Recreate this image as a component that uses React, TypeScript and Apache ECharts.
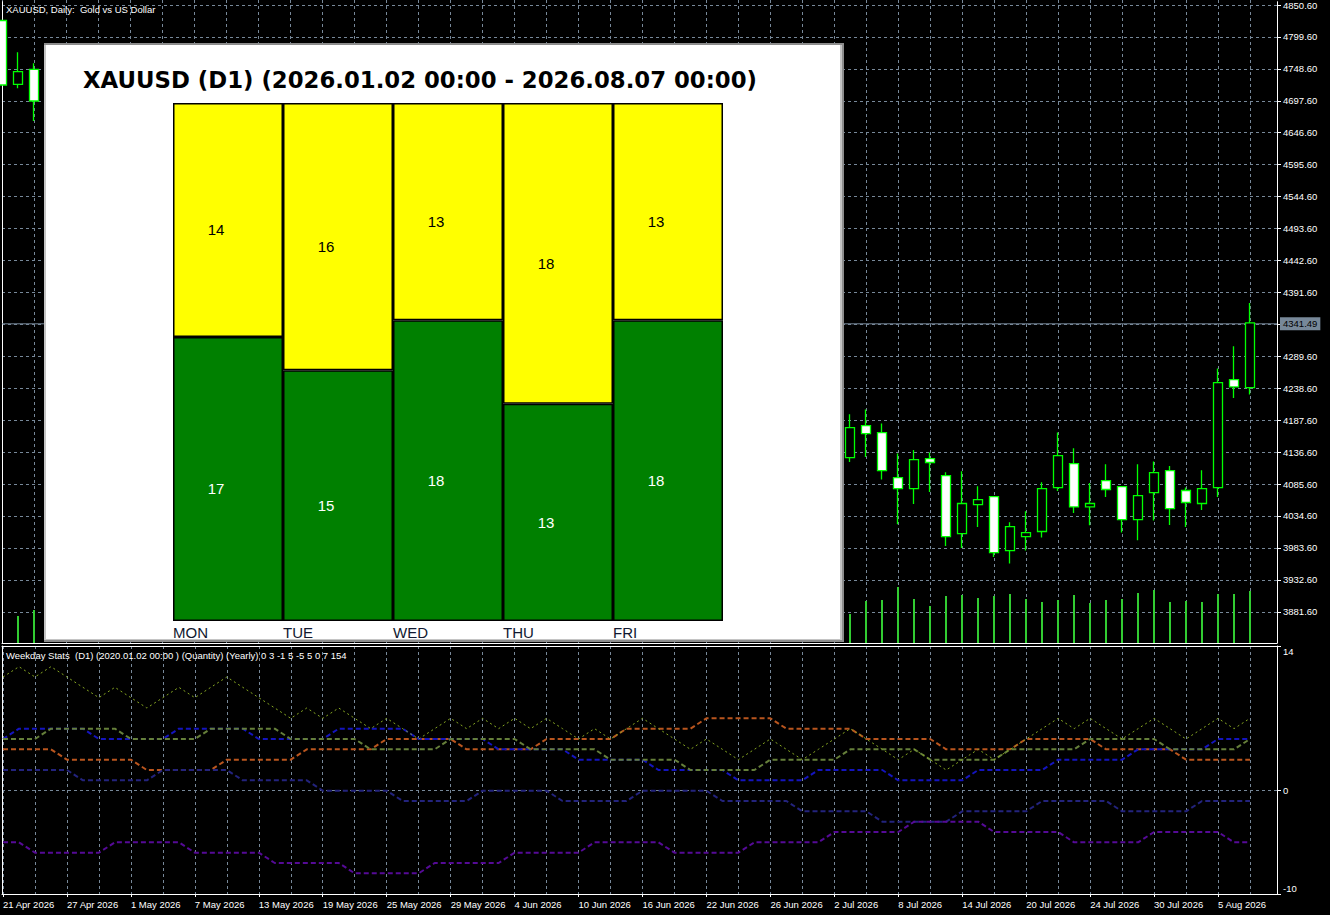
import React, { useEffect, useRef } from 'react';
import * as echarts from 'echarts';

const FONT = "'Liberation Sans', Arial, sans-serif";
const GRID_COLOR = '#778899';
const WHITE = '#ffffff';

// ---------- categories ----------
const dates = [
  '21 Apr 2026', '22 Apr 2026', '23 Apr 2026', '24 Apr 2026',
  '27 Apr 2026', '28 Apr 2026', '29 Apr 2026', '30 Apr 2026', '1 May 2026',
  '4 May 2026', '5 May 2026', '6 May 2026', '7 May 2026', '8 May 2026',
  '11 May 2026', '12 May 2026', '13 May 2026', '14 May 2026', '15 May 2026',
  '18 May 2026', '19 May 2026', '20 May 2026', '21 May 2026', '22 May 2026',
  '25 May 2026', '26 May 2026', '27 May 2026', '28 May 2026', '29 May 2026',
  '1 Jun 2026', '2 Jun 2026', '3 Jun 2026', '4 Jun 2026', '5 Jun 2026',
  '8 Jun 2026', '9 Jun 2026', '10 Jun 2026', '11 Jun 2026', '12 Jun 2026',
  '15 Jun 2026', '16 Jun 2026', '17 Jun 2026', '18 Jun 2026', '19 Jun 2026',
  '22 Jun 2026', '23 Jun 2026', '24 Jun 2026', '25 Jun 2026', '26 Jun 2026',
  '29 Jun 2026', '30 Jun 2026', '1 Jul 2026', '2 Jul 2026', '3 Jul 2026',
  '6 Jul 2026', '7 Jul 2026', '8 Jul 2026', '9 Jul 2026', '10 Jul 2026',
  '13 Jul 2026', '14 Jul 2026', '15 Jul 2026', '16 Jul 2026', '17 Jul 2026',
  '20 Jul 2026', '21 Jul 2026', '22 Jul 2026', '23 Jul 2026', '24 Jul 2026',
  '27 Jul 2026', '28 Jul 2026', '29 Jul 2026', '30 Jul 2026', '31 Jul 2026',
  '3 Aug 2026', '4 Aug 2026', '5 Aug 2026', '6 Aug 2026', '7 Aug 2026',
];

// ---------- price candles [open, close, low, high] (visible ones only) ----------
const candlesLeft = [
  [4823.2, 4720.5, 4720.5, 4823.2],
  [4721.6, 4741.7, 4715.2, 4772.6],
  [4745.5, 4695.0, 4663.0, 4755.0],
];
const RIGHT_START = 53;
const candlesRight = [
  [4127.1, 4174.9, 4120.1, 4196.1],
  [4178.1, 4165.3, 4128.1, 4203.6],
  [4166.9, 4106.4, 4092.1, 4181.3],
  [4095.3, 4077.7, 4020.9, 4133.5],
  [4077.7, 4123.9, 4053.2, 4139.0],
  [4125.5, 4119.2, 4072.3, 4135.1],
  [4098.4, 4001.3, 3986.3, 4103.7],
  [4006.1, 4053.9, 3983.1, 4105.3],
  [4052.3, 4060.2, 4016.5, 4081.4],
  [4065.0, 3975.8, 3968.8, 4066.0],
  [3979.0, 4017.2, 3958.4, 4024.1],
  [4001.3, 4007.6, 3979.0, 4041.7],
  [4009.3, 4077.7, 3999.7, 4087.8],
  [4079.3, 4130.3, 4073.9, 4166.9],
  [4117.6, 4048.5, 4038.9, 4141.9],
  [4048.5, 4053.9, 4019.3, 4086.7],
  [4090.5, 4076.2, 4064.4, 4116.4],
  [4080.9, 4028.4, 4007.7, 4082.0],
  [4028.4, 4066.6, 3995.4, 4116.4],
  [4071.4, 4103.2, 4026.8, 4120.7],
  [4106.4, 4045.9, 4019.8, 4113.7],
  [4074.6, 4055.5, 4016.5, 4079.3],
  [4053.9, 4077.7, 4043.5, 4106.9],
  [4079.3, 4246.6, 4064.4, 4268.9],
  [4251.3, 4239.6, 4222.0, 4304.4],
  [4238.6, 4341.49, 4227.5, 4373.4],
];
const volumesLeft = [null, 27, 33];
const volumesRight = [29, 42, 43, 56, 44, 37, 47, 48, 45, 47, 49, 44, 41, 43, 48, 40, 43, 44, 50, 53, 41, 42, 41, 49, 49, 52];
const BID = 4341.49;

// ---------- price axis ----------
const PRICE_MIN = 3831.75;
const PRICE_MAX = 4855.86;
const VOL_MAX = 643;
const priceTicks = [3881.6, 3932.6, 3983.6, 4034.6, 4085.6, 4136.6, 4187.6, 4238.6, 4289.6, 4340.6,
  4391.6, 4442.6, 4493.6, 4544.6, 4595.6, 4646.6, 4697.6, 4748.6, 4799.6, 4850.6];
const priceLabels = [3881.6, 3932.6, 3983.6, 4034.6, 4085.6, 4136.6, 4187.6, 4238.6, 4289.6,
  4391.6, 4442.6, 4493.6, 4544.6, 4595.6, 4646.6, 4697.6, 4748.6, 4799.6, 4850.6];

// ---------- weekday stats indicator (cumulative yearly counts) ----------
const monLine = [4, 4, 4, 4, 3, 3, 3, 3, 3, 2, 2, 2, 2, 2, 3, 3, 3, 3, 3, 4, 4, 4, 4, 4, 5, 5, 5, 5, 5, 4, 4, 4, 4, 4,
  5, 5, 5, 5, 5, 6, 6, 6, 6, 6, 7, 7, 7, 7, 7, 6, 6, 6, 6, 6, 5, 5, 5, 5, 5, 4, 4, 4, 4, 4, 5, 5, 5, 5, 5,
  4, 4, 4, 4, 4, 3, 3, 3, 3, 3];
const tueLine = [2, 2, 2, 2, 2, 1, 1, 1, 1, 1, 2, 2, 2, 2, 2, 1, 1, 1, 1, 1, 0, 0, 0, 0, 0, -1, -1, -1, -1, -1,
  0, 0, 0, 0, 0, -1, -1, -1, -1, -1, 0, 0, 0, 0, 0, -1, -1, -1, -1, -1, -2, -2, -2, -2, -2, -3, -3, -3, -3, -3,
  -2, -2, -2, -2, -2, -1, -1, -1, -1, -1, -2, -2, -2, -2, -2, -1, -1, -1, -1];
const wedLine = [5, 6, 6, 6, 6, 6, 5, 5, 5, 5, 5, 6, 6, 6, 6, 6, 5, 5, 5, 5, 5, 6, 6, 6, 6, 6, 5, 5, 5, 5, 5,
  4, 4, 4, 4, 4, 3, 3, 3, 3, 3, 2, 2, 2, 2, 2, 1, 1, 1, 1, 1, 2, 2, 2, 2, 2, 1, 1, 1, 1, 1, 2, 2, 2, 2, 2,
  3, 3, 3, 3, 3, 4, 4, 4, 4, 4, 5, 5, 5];
const thuLine = [-5, -5, -6, -6, -6, -6, -6, -5, -5, -5, -5, -5, -6, -6, -6, -6, -6, -7, -7, -7, -7, -7,
  -8, -8, -8, -8, -8, -7, -7, -7, -7, -7, -6, -6, -6, -6, -6, -5, -5, -5, -5, -5, -6, -6, -6, -6, -6,
  -5, -5, -5, -5, -5, -4, -4, -4, -4, -4, -3, -3, -3, -3, -3, -4, -4, -4, -4, -4, -5, -5, -5, -5, -5,
  -4, -4, -4, -4, -4, -5, -5];
const friLine = [5, 5, 5, 6, 6, 6, 6, 6, 5, 5, 5, 5, 5, 6, 6, 6, 6, 6, 5, 5, 5, 5, 5, 4, 4, 4, 4, 4, 5, 5, 5, 5, 5,
  4, 4, 4, 4, 4, 3, 3, 3, 3, 3, 2, 2, 2, 2, 2, 3, 3, 3, 3, 3, 4, 4, 4, 4, 4, 3, 3, 3, 3, 3, 4, 4, 4, 4, 4,
  5, 5, 5, 5, 5, 4, 4, 4, 4, 4, 5];
const totalLine = [11, 12, 11, 12, 11, 10, 9, 10, 9, 8, 9, 10, 9, 10, 11, 10, 9, 8, 7, 8, 7, 8, 7, 6, 7, 6, 5, 6, 7,
  6, 7, 6, 7, 6, 7, 6, 5, 6, 5, 6, 7, 6, 5, 4, 5, 4, 3, 4, 5, 4, 3, 4, 5, 6, 5, 4, 3, 4, 3, 2, 3, 4, 3, 4,
  5, 6, 7, 6, 7, 6, 5, 6, 7, 6, 5, 6, 7, 6, 7];
const indicatorTicks = [14, 0, -10];

// ---------- overlay panel ----------
const weekdays = ['MON', 'TUE', 'WED', 'THU', 'FRI'];
const upCounts = [17, 15, 18, 13, 18];
const downCounts = [14, 16, 13, 18, 13];

const CHART_TITLE = 'XAUUSD, Daily:  Gold vs US Dollar';
const PANEL_TITLE = 'XAUUSD (D1) (2026.01.02 00:00 - 2026.08.07 00:00)';
const INDICATOR_TITLE = 'Weekday Stats  (D1) (2020.01.02 00:00 ) (Quantity) (Yearly) 0 3 -1 5 -5 5 0 7 154';

function buildOption(): any {
  const candleData = dates.map((_, i) => {
    if (i < candlesLeft.length) return candlesLeft[i];
    if (i >= RIGHT_START) return candlesRight[i - RIGHT_START];
    return '-';
  });
  const volumeData = dates.map((_, i) => {
    if (i < volumesLeft.length) return volumesLeft[i] == null ? '-' : volumesLeft[i];
    if (i >= RIGHT_START) return volumesRight[i - RIGHT_START];
    return '-';
  });

  const dashed = { color: GRID_COLOR, width: 1, type: [3, 3] as any };
  const hiddenAxisParts = {
    axisLabel: { show: false },
    axisTick: { show: false },
    splitLine: { show: false },
  };
  const smallText = { color: WHITE, fontSize: 9.5, fontFamily: FONT };

  const indLine = (name: string, data: number[], color: string, width: number, type: any) => ({
    type: 'line',
    name,
    xAxisIndex: 2,
    yAxisIndex: 4,
    data,
    symbol: 'none',
    silent: true,
    z: 3,
    lineStyle: { color, width, type },
  });

  return {
    animation: false,
    backgroundColor: '#000000',
    grid: [
      { left: 2, top: 0, width: 1248, height: 643 },
      { left: 2, top: 0, width: 1275, height: 643 },
      { left: 2, top: 646, width: 1248, height: 248 },
      { left: 2, top: 646, width: 1275, height: 248 },
      { left: 173, top: 103, width: 550, height: 518 },
    ],
    xAxis: [
      {
        gridIndex: 0, type: 'category', data: dates, boundaryGap: false,
        axisLine: { show: false, onZero: false }, axisTick: { show: false }, axisLabel: { show: false },
        splitLine: { show: true, interval: 1, lineStyle: dashed },
      },
      {
        gridIndex: 1, type: 'value', min: 0, max: 1, position: 'bottom',
        axisLine: { show: true, onZero: false, lineStyle: { color: WHITE, width: 1 } },
        ...hiddenAxisParts,
      },
      {
        gridIndex: 2, type: 'category', data: dates, boundaryGap: false, position: 'bottom',
        axisLine: { show: false, onZero: false },
        axisTick: { show: true, interval: 3, length: 3, lineStyle: { color: WHITE } },
        axisLabel: { show: true, interval: 3, align: 'left', margin: 5, ...smallText },
        splitLine: { show: true, interval: 1, lineStyle: dashed },
      },
      {
        gridIndex: 3, type: 'value', min: 0, max: 1, position: 'bottom',
        axisLine: { show: true, onZero: false, lineStyle: { color: WHITE, width: 1 } },
        ...hiddenAxisParts,
      },
      {
        gridIndex: 3, type: 'value', min: 0, max: 1, position: 'top',
        axisLine: { show: true, onZero: false, lineStyle: { color: WHITE, width: 1 } },
        ...hiddenAxisParts,
      },
      {
        gridIndex: 4, type: 'category', data: weekdays, z: 12,
        axisLine: { show: false }, axisTick: { show: false },
        axisLabel: {
          show: true, margin: 4,
          formatter: (v: string) => `{a|${v}}`,
          rich: { a: { width: 110, align: 'left', fontSize: 15, color: '#101830', fontFamily: FONT } },
        },
        splitLine: { show: false },
      },
    ],
    yAxis: [
      { gridIndex: 0, type: 'value', min: PRICE_MIN, max: PRICE_MAX, show: false },
      { gridIndex: 0, type: 'value', min: 0, max: VOL_MAX, show: false },
      {
        gridIndex: 1, type: 'value', min: PRICE_MIN, max: PRICE_MAX, position: 'right',
        axisLine: { show: true, onZero: false, lineStyle: { color: WHITE } },
        axisTick: { show: true, length: 4, customValues: priceTicks, lineStyle: { color: WHITE } },
        axisLabel: {
          show: true, margin: 6, customValues: priceLabels,
          formatter: (v: number) => v.toFixed(2), ...smallText,
        },
        splitLine: { show: true, lineStyle: dashed },
      },
      {
        gridIndex: 1, type: 'value', min: 0, max: 1, position: 'left',
        axisLine: { show: true, onZero: false, lineStyle: { color: WHITE } },
        ...hiddenAxisParts,
      },
      { gridIndex: 2, type: 'value', min: -10, max: 14, show: false },
      {
        gridIndex: 3, type: 'value', min: -10, max: 14, position: 'right',
        axisLine: { show: true, onZero: false, lineStyle: { color: WHITE } },
        axisTick: { show: true, length: 4, customValues: indicatorTicks, lineStyle: { color: WHITE } },
        axisLabel: {
          show: true, margin: 6, customValues: indicatorTicks,
          formatter: (v: number) => (v === 14 ? `{t|${v}}` : v === -10 ? `{b|${v}}` : `{m|${v}}`),
          rich: {
            t: { ...smallText, padding: [10, 0, 0, 0] },
            b: { ...smallText, padding: [0, 0, 12, 0] },
            m: { ...smallText },
          },
        },
        splitLine: { show: true, lineStyle: dashed },
      },
      {
        gridIndex: 3, type: 'value', min: 0, max: 1, position: 'left',
        axisLine: { show: true, onZero: false, lineStyle: { color: WHITE } },
        ...hiddenAxisParts,
      },
      { gridIndex: 4, type: 'value', min: 0, max: 100, show: false },
    ],
    series: [
      {
        type: 'bar', name: 'Volume', xAxisIndex: 0, yAxisIndex: 1, data: volumeData,
        barWidth: 2, clip: false, silent: true, z: 2,
        itemStyle: { color: '#32CD32' },
      },
      {
        type: 'candlestick', name: 'XAUUSD', xAxisIndex: 0, yAxisIndex: 0, data: candleData,
        barWidth: 10, clip: false, silent: true, z: 3,
        itemStyle: {
          color: '#000000', color0: '#ffffff',
          borderColor: '#00ff00', borderColor0: '#00ff00', borderWidth: 1.3,
        },
      },
      {
        type: 'line', name: 'Bid', xAxisIndex: 1, yAxisIndex: 2,
        data: [[0, BID], [1, BID]], symbol: 'none', silent: true, z: 2,
        lineStyle: { color: GRID_COLOR, width: 1 },
        endLabel: {
          show: true, distance: 3,
          formatter: () => BID.toFixed(2),
          backgroundColor: GRID_COLOR, color: '#000000',
          padding: [2, 3, 1, 3], fontSize: 9.5, fontFamily: FONT,
        },
      },
      indLine('MON', monLine, '#B9551E', 2, [5, 3]),
      indLine('TUE', tueLine, '#23237D', 2, [5, 3]),
      indLine('WED', wedLine, '#1414BE', 2, [5, 3]),
      indLine('THU', thuLine, '#550A96', 2, [5, 3]),
      indLine('FRI', friLine, '#657F3A', 2, [5, 3]),
      indLine('TOTAL', totalLine, '#86A622', 1, [2, 3]),
      {
        type: 'bar', name: 'Up', xAxisIndex: 5, yAxisIndex: 7, stack: 'wd',
        data: upCounts.map((u, i) => (u / (u + downCounts[i])) * 100),
        barCategoryGap: '0%', z: 12, silent: true,
        itemStyle: { color: '#008000', borderColor: '#000000', borderWidth: 1.5 },
        label: {
          show: true, position: 'inside', offset: [-12, 10],
          formatter: (p: any) => String(upCounts[p.dataIndex]),
          color: '#ffffff', fontSize: 15, fontFamily: FONT,
        },
      },
      {
        type: 'bar', name: 'Down', xAxisIndex: 5, yAxisIndex: 7, stack: 'wd',
        data: downCounts.map((d, i) => (d / (upCounts[i] + d)) * 100),
        barCategoryGap: '0%', z: 12, silent: true,
        itemStyle: { color: '#ffff00', borderColor: '#000000', borderWidth: 1.5 },
        label: {
          show: true, position: 'inside', offset: [-12, 10],
          formatter: (p: any) => String(downCounts[p.dataIndex]),
          color: '#000000', fontSize: 15, fontFamily: FONT,
        },
      },
    ],
    graphic: {
      elements: [
        { type: 'rect', z: 10, silent: true, shape: { x: 44, y: 43, width: 800, height: 599 }, style: { fill: '#8c8c8c' } },
        { type: 'rect', z: 10, silent: true, shape: { x: 44, y: 45, width: 798, height: 595 }, style: { fill: '#c4c4c4' } },
        { type: 'rect', z: 10, silent: true, shape: { x: 46, y: 45, width: 794, height: 594 }, style: { fill: '#ffffff' } },
        {
          type: 'text', z: 13, silent: true, x: 83, y: 80,
          style: {
            text: PANEL_TITLE, fill: '#000000', fontSize: 22.8, fontWeight: 'bold',
            fontFamily: "'DejaVu Sans', sans-serif", verticalAlign: 'middle', align: 'left',
          },
        },
        {
          type: 'text', z: 14, silent: true, x: 6, y: 9,
          style: { text: CHART_TITLE, fill: WHITE, fontSize: 9.5, fontFamily: FONT, verticalAlign: 'middle' },
        },
        {
          type: 'text', z: 14, silent: true, x: 6, y: 655,
          style: { text: INDICATOR_TITLE, fill: WHITE, fontSize: 9.5, fontFamily: FONT, verticalAlign: 'middle' },
        },
      ],
    },
  };
}

export default function App() {
  const ref = useRef<HTMLDivElement>(null);
  useEffect(() => {
    if (!ref.current) return;
    const chart = echarts.init(ref.current, null, { renderer: 'svg' });
    chart.setOption(buildOption());
    return () => chart.dispose();
  }, []);
  return (
    <div
      ref={ref}
      style={{ position: 'fixed', left: 0, top: 0, width: 1330, height: 915, background: '#000000' }}
    />
  );
}
